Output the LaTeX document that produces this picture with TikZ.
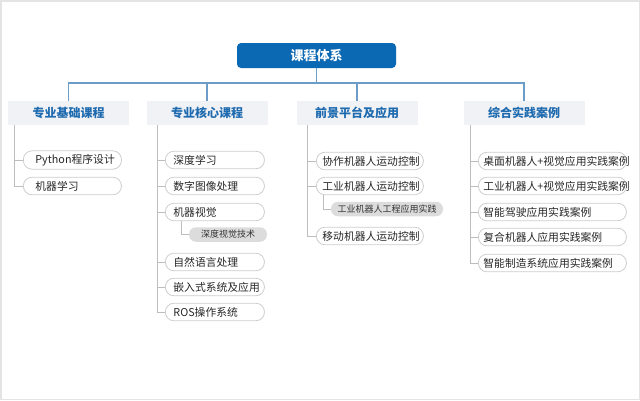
\documentclass[tikz,border=0pt]{standalone}
\usepackage{fontspec}
\setmainfont{Noto Sans CJK SC}
\usetikzlibrary{positioning}

\definecolor{rootblue}{HTML}{0B68B3}
\definecolor{catblue}{HTML}{1F6BB0}
\definecolor{catfill}{HTML}{F1F2F5}
\definecolor{linkblue}{HTML}{6C9CC8}
\definecolor{treegray}{HTML}{BDBDBD}
\definecolor{itemgray}{HTML}{CDCDCD}
\definecolor{subfill}{HTML}{DCDCDC}
\definecolor{framegray}{HTML}{E4E4E4}

\tikzset{
  root/.style={fill=rootblue, text=white, rounded corners=4pt, minimum width=159pt,
    minimum height=25pt, font=\fontsize{13}{15}\selectfont\bfseries},
  cat/.style={fill=catfill, text=catblue, minimum width=121pt, minimum height=24pt,
    font=\fontsize{12}{14}\selectfont\bfseries},
  item/.style 2 args={draw=itemgray, line width=0.8pt, rounded corners=8.5pt, anchor=west,
    minimum height=17.5pt, inner xsep=#1, text width=#2, align=left,
    text=black!85, font=\fontsize{10.8}{12}\selectfont},
  sub/.style={fill=subfill, rounded corners=7pt, minimum width=#1, minimum height=14.5pt,
    inner sep=0pt, text=black!80, font=\fontsize{9}{10}\selectfont},
  link/.style={draw=linkblue, line width=1.2pt},
  tree/.style={draw=treegray, line width=0.8pt}
}

\begin{document}
\begin{tikzpicture}[x=1pt, y=-1pt]
    \useasboundingbox (0,0) rectangle (640,400);
    \draw[framegray, line width=1.5pt] (0.75,0.75) rectangle (639.25,399.25);

    % Top
    \node[root] (root) at (316.5,55.5) {课程体系};
    \coordinate (bar) at (0,83);

    % Categories
    \node[cat] (c1) at (68.5,113) {专业基础课程};
    \node[cat] (c2) at (207,113) {专业核心课程};
    \node[cat] (c3) at (357,113) {前景平台及应用};
    \node[cat] (c4) at (524,113) {综合实践案例};

    \draw[link] (root.south) -- (root.south |- bar);
    \draw[link] (c1.north) |- (c4.north |- bar) -- (c4.north);
    \draw[link] (c2.north) -- (c2.north |- bar);
    \draw[link] (c3.north) -- (c3.north |- bar);

    % Column 1
    \node[item={12pt}{74pt}] (c1a) at (23,160) {Python程序设计};
    \node[item={12pt}{74pt}] (c1b) at (23,186) {机器学习};
    \draw[tree] ([xshift=7pt]c1.south west) |- (c1a.west);
    \draw[tree] ([xshift=7pt]c1.south west) |- (c1b.west);

    % Column 2
    \node[item={8pt}{83pt}] (c2a) at (165,160) {深度学习};
    \node[item={8pt}{83pt}] (c2b) at (165,186) {数字图像处理};
    \node[item={8pt}{83pt}] (c2c) at (165,212) {机器视觉};
    \node[sub=78pt] (c2c1) at (228,234.5) {深度视觉技术};
    \node[item={8pt}{83pt}] (c2d) at (165,262) {自然语言处理};
    \node[item={8pt}{83pt}] (c2e) at (165,287) {嵌入式系统及应用};
    \node[item={8pt}{83pt}] (c2f) at (165,312) {ROS操作系统};
    \draw[tree] ([xshift=11pt]c2.south west) |- (c2a.west);
    \draw[tree] ([xshift=11pt]c2.south west) |- (c2b.west);
    \draw[tree] ([xshift=11pt]c2.south west) |- (c2c.west);
    \draw[tree] ([xshift=11pt]c2.south west) |- (c2d.west);
    \draw[tree] ([xshift=11pt]c2.south west) |- (c2e.west);
    \draw[tree] ([xshift=11pt]c2.south west) |- (c2f.west);
    \draw[tree] ([xshift=16pt]c2c.south west) |- (c2c1.west);

    % Column 3
    \node[item={6pt}{95pt}] (c3a) at (316,161) {协作机器人运动控制};
    \node[item={6pt}{95pt}] (c3b) at (316,186) {工业机器人运动控制};
    \node[sub=112pt] (c3b1) at (387,209) {工业机器人工程应用实践};
    \node[item={6pt}{95pt}] (c3c) at (316,236) {移动机器人运动控制};
    \draw[tree] ([xshift=11pt]c3.south west) |- (c3a.west);
    \draw[tree] ([xshift=11pt]c3.south west) |- (c3b.west);
    \draw[tree] ([xshift=11pt]c3.south west) |- (c3c.west);
    \draw[tree] ([xshift=7pt]c3b.south west) |- (c3b1.west);

    % Column 4
    \node[item={5pt}{138pt}] (c4a) at (478,161) {桌面机器人+视觉应用实践案例};
    \node[item={5pt}{138pt}] (c4b) at (478,186) {工业机器人+视觉应用实践案例};
    \node[item={5pt}{138pt}] (c4c) at (478,212) {智能驾驶应用实践案例};
    \node[item={5pt}{138pt}] (c4d) at (478,237) {复合机器人应用实践案例};
    \node[item={5pt}{138pt}] (c4e) at (478,263) {智能制造系统应用实践案例};
    \draw[tree] ([xshift=7pt]c4.south west) |- (c4a.west);
    \draw[tree] ([xshift=7pt]c4.south west) |- (c4b.west);
    \draw[tree] ([xshift=7pt]c4.south west) |- (c4c.west);
    \draw[tree] ([xshift=7pt]c4.south west) |- (c4d.west);
    \draw[tree] ([xshift=7pt]c4.south west) |- (c4e.west);
\end{tikzpicture}
\end{document}
